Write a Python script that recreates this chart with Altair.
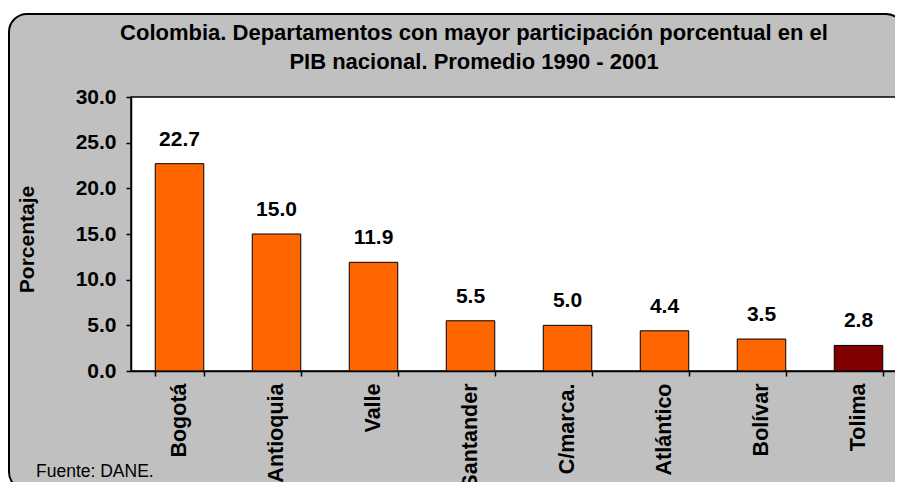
import altair as alt
import pandas as pd

departamentos = ["Bogotá", "Antioquia", "Valle", "Santander", "C/marca.", "Atlántico", "Bolívar", "Tolima"]
participacion = [22.7, 15.0, 11.9, 5.5, 5.0, 4.4, 3.5, 2.8]
colores = ["#FF6600", "#FF6600", "#FF6600", "#FF6600", "#FF6600", "#FF6600", "#FF6600", "#800000"]
titulo = ["Colombia. Departamentos con mayor participación porcentual en el",
          "PIB nacional. Promedio 1990 - 2001"]
fuente = "Fuente: DANE."
y_ticks = [0, 5, 10, 15, 20, 25, 30]

FONT = "Liberation Sans"
W, H = 764, 274      # visible plot size (page is 903 px wide)
XR = 776             # the band range runs slightly past the visible page edge

df = pd.DataFrame({"dep": departamentos, "val": participacion})
one = pd.DataFrame({"k": [0]})

# decorative gray rounded panel (chart area background)
panel = alt.Chart(one).mark_rect(
    fill="#C0C0C0", stroke="black", strokeWidth=2, cornerRadius=18
).encode(x=alt.value(-122), x2=alt.value(773), y=alt.value(-83), y2=alt.value(393))

# white plot area
plotbg = alt.Chart(one).mark_rect(
    fill="white", stroke="black", strokeWidth=1.5
).encode(x=alt.value(0), x2=alt.value(XR + 10), y=alt.value(0), y2=alt.value(H))

x_enc = alt.X("dep:N", sort=None, title=None,
              scale=alt.Scale(paddingInner=0.5, paddingOuter=0.25, range=[0, XR]),
              axis=alt.Axis(labelAngle=-90, labelAlign="right", labelBaseline="middle",
                            labelFont=FONT, labelFontSize=21.5, labelFontWeight="bold",
                            labelColor="black", labelPadding=7, tickBand="extent",
                            tickSize=5, tickColor="black", tickWidth=1.5,
                            domainColor="black", domainWidth=1.5, zindex=1))
y_enc = alt.Y("val:Q", title="Porcentaje",
              scale=alt.Scale(domain=[0, 30], nice=False),
              axis=alt.Axis(values=y_ticks, format=".1f", grid=False,
                            labelFont=FONT, labelFontSize=21, labelFontWeight="bold",
                            labelColor="black", labelPadding=10,
                            tickSize=5, tickColor="black", tickWidth=1.5,
                            domainColor="black", domainWidth=1.5,
                            titleFont=FONT, titleFontSize=21, titleFontWeight="bold",
                            titleColor="black", titleAngle=-90, titleAlign="center",
                            titleBaseline="alphabetic", titleX=-98, titleY=142, zindex=1))

bars = alt.Chart(df).mark_bar(stroke="black", strokeWidth=1).encode(
    x=x_enc, y=y_enc,
    color=alt.Color("dep:N", scale=alt.Scale(domain=departamentos, range=colores), legend=None),
)

labels = alt.Chart(df).mark_text(
    dy=-18, baseline="alphabetic", font=FONT, fontSize=21, fontWeight="bold", color="black"
).encode(x=alt.X("dep:N", sort=None), y="val:Q", text=alt.Text("val:Q", format=".1f"))

t1 = alt.Chart(one).mark_text(
    text=titulo[0], font=FONT, fontSize=22, fontWeight="bold", color="black",
    align="center", baseline="alphabetic"
).encode(x=alt.value(343), y=alt.value(-57))
t2 = alt.Chart(one).mark_text(
    text=titulo[1], font=FONT, fontSize=22, fontWeight="bold", color="black",
    align="center", baseline="alphabetic"
).encode(x=alt.value(343), y=alt.value(-28))

src = alt.Chart(one).mark_text(
    text=fuente, font=FONT, fontSize=17.5, color="black", align="left", baseline="alphabetic"
).encode(x=alt.value(-95), y=alt.value(380))

chart = alt.layer(panel, plotbg, bars, labels, t1, t2, src).properties(
    width=W, height=H,
    autosize=alt.AutoSizeParams(type="none"),
    padding={"left": 123, "top": 89, "right": 0, "bottom": 111},
    background="white",
).configure_view(stroke=None)

chart.save("out.html", embed_options={"renderer": "svg", "actions": False})
